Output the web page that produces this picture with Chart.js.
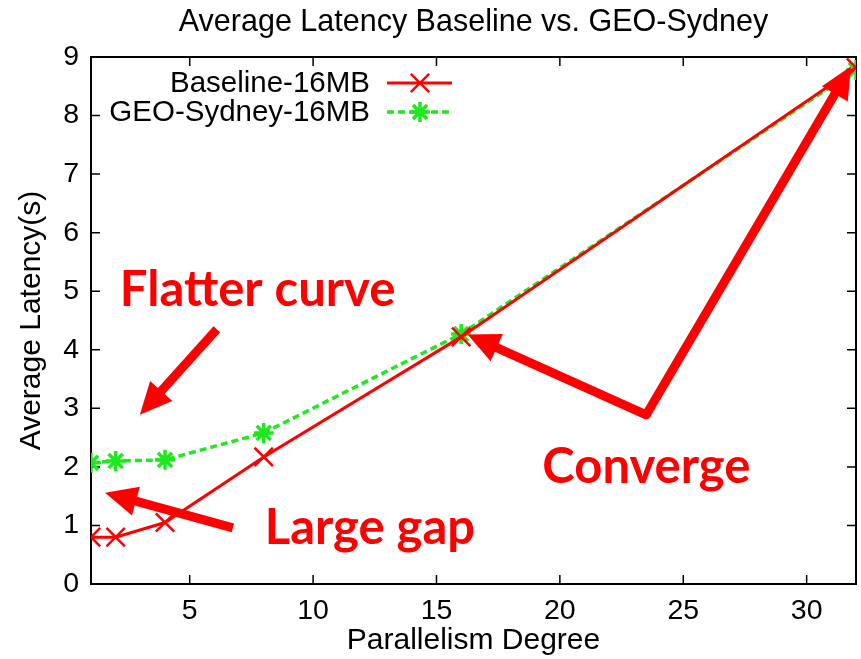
<!DOCTYPE html>
<html>
<head>
<meta charset="utf-8">
<script src="https://cdn.jsdelivr.net/npm/chart.js@4.4.0/dist/chart.umd.min.js"></script>
<style>
html,body{margin:0;padding:0;background:#fff;}
#wrap{width:861px;height:659px;}
</style>
</head>
<body>
<div id="wrap"><canvas id="c" width="861" height="659"></canvas></div>
<script>
// ---- data ----
const parallelism = [1, 2, 4, 8, 16, 32];
const baseline16MB = [0.80, 0.80, 1.05, 2.17, 4.22, 8.82];
const geoSydney16MB = [2.07, 2.10, 2.12, 2.58, 4.27, 8.78];
const seriesNames = ['Baseline-16MB', 'GEO-Sydney-16MB'];
const xTicks = [5, 10, 15, 20, 25, 30];
const yTicks = [0, 1, 2, 3, 4, 5, 6, 7, 8, 9];
const chartTitle = 'Average Latency Baseline vs. GEO-Sydney';
const xTitle = 'Parallelism Degree';
const yTitle = 'Average Latency(s)';
// annotations (in data units)
const notes = [
  {text: 'Flatter curve', x: 2.17, y: 4.74},
  {text: 'Converge', x: 19.29, y: 1.73},
  {text: 'Large gap', x: 8.04, y: 0.68}
];
const arrows = [
  {from: [6.10, 4.35], to: [2.98, 2.89]},
  {from: [6.75, 0.96], to: [1.57, 1.56]},
  {from: [23.5, 2.89], to: [16.26, 4.26]},
  {from: [23.5, 2.89], to: [31.8, 8.84]}
];

const RED = '#ff0000';
const GREEN = '#1ee81e';
const FONT = '"Liberation Sans", Arial, sans-serif';

const toPts = (ys) => parallelism.map((x, i) => ({x: x, y: ys[i]}));

function drawMarker(ctx, style, x, y, r, color, lw) {
  ctx.save();
  ctx.strokeStyle = color; ctx.lineWidth = lw; ctx.setLineDash([]);
  Chart.helpers.drawPoint(ctx, {pointStyle: style, radius: r, rotation: 0, borderWidth: lw}, x, y);
  ctx.restore();
}

const deco = {
  id: 'deco',
  beforeDatasetsDraw(chart) {
    const {ctx, chartArea: a, scales: {x, y}} = chart;
    ctx.save();
    ctx.strokeStyle = '#000'; ctx.lineWidth = 2; ctx.setLineDash([]);
    ctx.strokeRect(a.left, a.top, a.right - a.left, a.bottom - a.top);
    ctx.lineWidth = 1.5;
    const tl = 9;
    x.ticks.forEach(t => {
      const px = x.getPixelForValue(t.value);
      ctx.beginPath();
      ctx.moveTo(px, a.bottom); ctx.lineTo(px, a.bottom - tl);
      ctx.moveTo(px, a.top); ctx.lineTo(px, a.top + tl);
      ctx.stroke();
    });
    y.ticks.forEach(t => {
      const py = y.getPixelForValue(t.value);
      ctx.beginPath();
      ctx.moveTo(a.left, py); ctx.lineTo(a.left + tl, py);
      ctx.moveTo(a.right, py); ctx.lineTo(a.right - tl, py);
      ctx.stroke();
    });
    ctx.restore();
  },
  afterDraw(chart) {
    const {ctx, chartArea: a, scales: {x, y}} = chart;
    ctx.save();
    // title
    ctx.fillStyle = '#000';
    ctx.font = '30.5px ' + FONT;
    ctx.textAlign = 'center'; ctx.textBaseline = 'middle';
    ctx.fillText(chartTitle, (a.left + a.right) / 2, 23);
    // legend
    const ds = chart.data.datasets;
    ctx.font = '29.5px ' + FONT;
    ctx.textAlign = 'right';
    const rows = [83, 112];
    ds.forEach((d, i) => {
      ctx.fillStyle = '#000';
      ctx.fillText(d.label, 370, rows[i] + 1);
      ctx.strokeStyle = d.borderColor; ctx.lineWidth = d.borderWidth;
      ctx.setLineDash(d.borderDash || []);
      ctx.beginPath(); ctx.moveTo(387, rows[i]); ctx.lineTo(452, rows[i]); ctx.stroke();
      drawMarker(ctx, d.pointStyle, 420, rows[i], d.pointRadius, d.borderColor, d.pointBorderWidth);
    });
    ctx.setLineDash([]);
    // arrows
    ctx.fillStyle = RED; ctx.strokeStyle = RED;
    arrows.forEach(ar => {
      const x0 = x.getPixelForValue(ar.from[0]), y0 = y.getPixelForValue(ar.from[1]);
      const x1 = x.getPixelForValue(ar.to[0]), y1 = y.getPixelForValue(ar.to[1]);
      const ang = Math.atan2(y1 - y0, x1 - x0);
      const L = 32, W = 15;
      const bx = x1 - L * Math.cos(ang), by = y1 - L * Math.sin(ang);
      ctx.lineWidth = 9; ctx.lineCap = 'butt';
      ctx.beginPath(); ctx.moveTo(x0, y0); ctx.lineTo(bx + 2 * Math.cos(ang), by + 2 * Math.sin(ang)); ctx.stroke();
      ctx.beginPath();
      ctx.moveTo(x1, y1);
      ctx.lineTo(bx + W * Math.sin(ang), by - W * Math.cos(ang));
      ctx.lineTo(bx - W * Math.sin(ang), by + W * Math.cos(ang));
      ctx.closePath(); ctx.fill();
    });
    // elbow join
    const ex = x.getPixelForValue(arrows[2].from[0]), ey = y.getPixelForValue(arrows[2].from[1]);
    ctx.beginPath(); ctx.arc(ex, ey, 4.5, 0, Math.PI * 2); ctx.fill();
    // notes
    ctx.font = 'bold 49px Lato, "Open Sans", sans-serif';
    ctx.textAlign = 'left'; ctx.textBaseline = 'alphabetic';
    notes.forEach(n => {
      ctx.fillText(n.text, x.getPixelForValue(n.x), y.getPixelForValue(n.y));
    });
    ctx.restore();
  }
};

new Chart(document.getElementById('c'), {
  type: 'scatter',
  data: {
    datasets: [
      {
        label: seriesNames[0], data: toPts(baseline16MB), showLine: true,
        borderColor: RED, backgroundColor: RED, borderWidth: 3,
        pointStyle: 'crossRot', pointRadius: 13, pointBorderWidth: 2.5, pointHoverRadius: 13
      },
      {
        label: seriesNames[1], data: toPts(geoSydney16MB), showLine: true,
        borderColor: GREEN, backgroundColor: GREEN, borderWidth: 3.5, borderDash: [7, 4],
        pointStyle: 'star', pointRadius: 10, pointBorderWidth: 3.5, pointHoverRadius: 10
      }
    ]
  },
  options: {
    responsive: false, animation: false,
    layout: {autoPadding: false, padding: {top: 57, right: 5, left: 0, bottom: 0}},
    plugins: {legend: {display: false}, title: {display: false}, tooltip: {enabled: false}},
    scales: {
      x: {
        type: 'linear', min: 1, max: 32,
        afterBuildTicks: s => { s.ticks = xTicks.map(v => ({value: v})); },
        afterFit: s => { s.height = 75; s.paddingLeft = 0; s.paddingRight = 0; },
        grid: {display: false, drawTicks: false}, border: {display: false},
        ticks: {color: '#000', font: {family: FONT, size: 28.5}, padding: 10, maxRotation: 0},
        title: {display: true, text: xTitle, color: '#000', font: {family: FONT, size: 30}, padding: {top: 0, bottom: 0}}
      },
      y: {
        type: 'linear', min: 0, max: 9,
        afterBuildTicks: s => { s.ticks = yTicks.map(v => ({value: v})); },
        afterFit: s => { s.width = 91; s.paddingTop = 0; s.paddingBottom = 0; },
        grid: {display: false, drawTicks: false}, border: {display: false},
        ticks: {color: '#000', font: {family: FONT, size: 28.5}, padding: 12},
        title: {display: true, text: yTitle, color: '#000', font: {family: FONT, size: 30}, padding: {top: 14, bottom: 0}}
      }
    }
  },
  plugins: [deco]
});
</script>
</body>
</html>
